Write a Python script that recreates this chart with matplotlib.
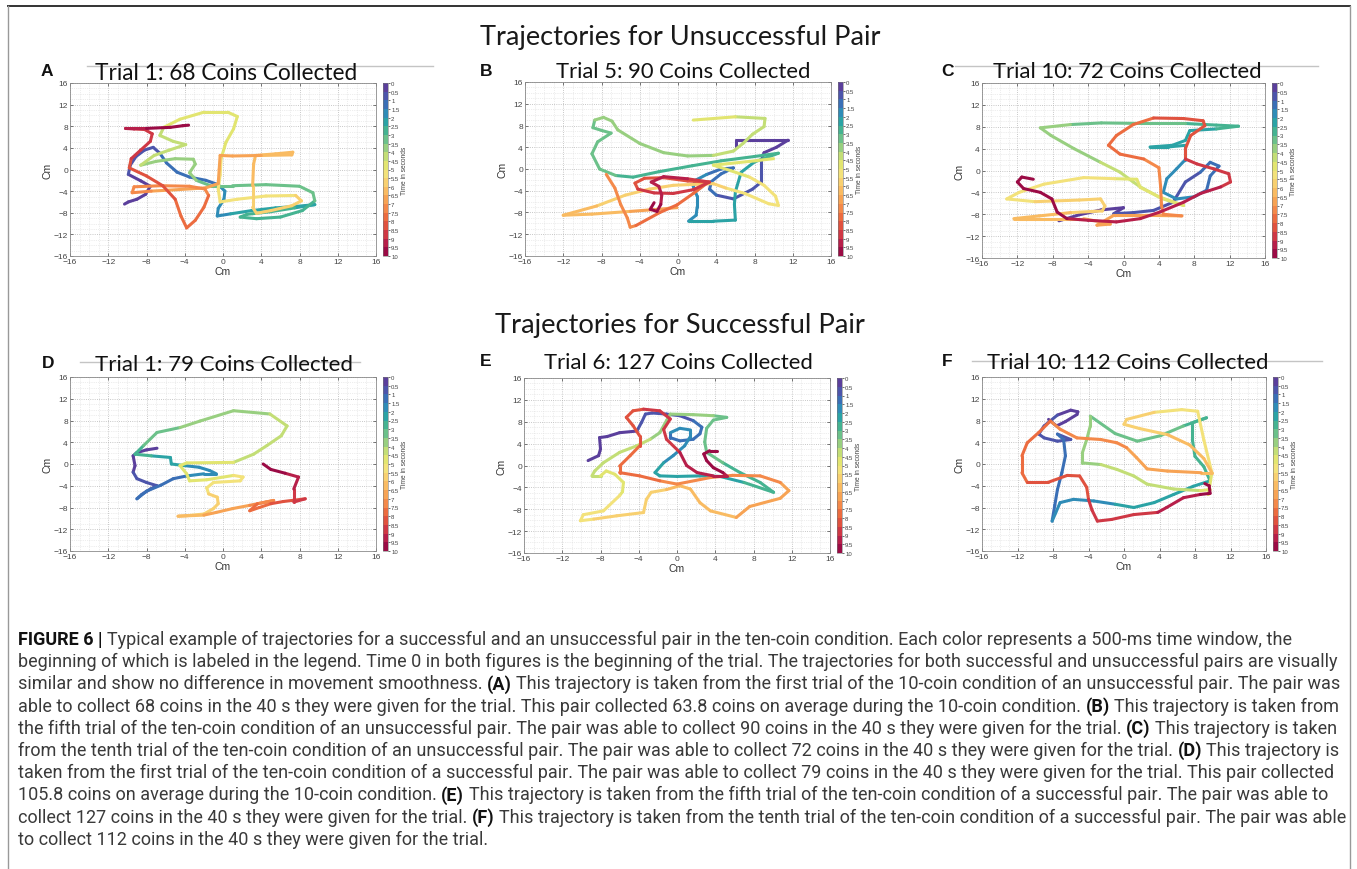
import numpy as np
import matplotlib
matplotlib.use('Agg')
import matplotlib.pyplot as plt
from matplotlib.collections import LineCollection
from matplotlib.colors import BoundaryNorm, ListedColormap
from matplotlib.cm import ScalarMappable
from matplotlib.lines import Line2D

# ---- data -------------------------------------------------------------
row_titles = ['Trajectories for Unsuccessful Pair', 'Trajectories for Successful Pair']
panel_letters = ['A', 'B', 'C', 'D', 'E', 'F']
panel_titles = ['Trial 1: 68 Coins Collected', 'Trial 5: 90 Coins Collected',
                'Trial 10: 72 Coins Collected', 'Trial 1: 79 Coins Collected',
                'Trial 6: 127 Coins Collected', 'Trial 10: 112 Coins Collected']
time_bins = np.arange(0, 10.01, 0.5)
ticks = np.arange(-16, 17, 4)

# (time in s, x cm, y cm); None marks a gap in the trace
traj_a = [(0.00, -10.3, -6.4), (0.05, -9.9, -6.0), (0.12, -9.0, -5.5), (0.20, -8.1, -4.6),
          (0.28, -7.6, -3.1), (0.36, -8.6, -2.1), (0.45, -9.9, -0.9), (0.55, -9.7, 0.8),
          (0.65, -9.1, 2.4), (0.75, -8.2, 3.6), (0.85, -7.3, 4.1), (0.95, -6.6, 3.0),
          (1.05, -5.9, 1.2), (1.15, -4.8, -0.5), (1.25, -3.5, -1.4), (1.35, -1.8, -2.0),
          (1.45, -0.5, -2.8), (1.55, 0.2, -4.0), (1.65, 0.1, -5.5), (1.75, -0.5, -7.2),
          (1.85, -0.6, -8.6), (1.95, 0.8, -8.2), (2.05, 3.0, -7.6), (2.15, 5.5, -7.1),
          (2.25, 7.8, -6.8), (2.35, 9.6, -6.5), (2.45, 7.5, -7.1), (2.55, 5.0, -7.8),
          (2.62, 2.5, -8.3), (2.70, 1.8, -8.8), (2.78, 3.5, -9.1), (2.86, 6.0, -8.8),
          (2.94, 8.3, -7.6), (3.02, 9.6, -5.8), (3.10, 9.4, -4.3), (3.18, 8.0, -3.1),
          (3.26, 4.5, -2.8), (3.34, 1.0, -3.0), (3.42, -1.3, -3.0), (3.50, -2.8, -2.0),
          (3.58, -3.5, -0.6), (3.66, -2.9, 1.0), (3.74, -3.1, 1.9), (3.82, -5.0, 2.0),
          (3.90, -7.0, 1.5), (3.98, -8.6, 0.8), (4.06, -7.2, 2.6), (4.14, -5.6, 3.6),
          (4.22, -3.9, 4.6), (4.30, -5.2, 5.2), (4.38, -6.6, 6.3), (4.46, -6.2, 7.8),
          (4.54, -4.5, 9.3), (4.62, -2.0, 10.6), (4.70, 0.5, 10.6), (4.78, 1.5, 9.8),
          (4.86, 1.1, 7.5), (4.94, 0.3, 5.0), (5.02, -0.2, 2.0), (5.10, -0.3, -1.0),
          (5.18, -0.5, -3.6), (5.26, -0.3, -6.0), (5.34, 1.5, -5.5), (5.42, 4.5, -4.9),
          (5.50, 7.6, -4.8), (5.58, 8.2, -5.8), (5.66, 7.2, -6.7), (5.74, 5.0, -7.6),
          (5.82, 3.5, -8.1), (5.90, 3.1, -7.0), (5.98, 3.1, -3.0), (6.06, 3.2, 1.0),
          (6.14, 3.4, 2.6), (6.22, 5.5, 2.9), (6.30, 7.3, 3.2), (6.38, 7.2, 2.7),
          (6.46, 4.0, 2.6), (6.54, 1.0, 2.5), (6.62, -0.3, 2.6), (6.70, -0.4, 0.0),
          (6.78, -0.5, -2.6), (6.86, -1.8, -3.4), (6.94, -4.5, -3.7), (7.02, -7.5, -4.0),
          (7.10, -9.5, -4.3), (7.18, -9.3, -3.2), (7.26, -6.5, -3.0), (7.34, -3.5, -3.1),
          (7.42, -1.9, -3.6), (7.52, -1.5, -4.8), (7.62, -2.0, -7.0), (7.72, -2.9, -9.4),
          (7.82, -3.8, -10.8), (7.92, -4.4, -8.6), (8.02, -5.0, -5.5), (8.12, -6.3, -3.0),
          (8.22, -8.0, -1.2), (8.32, -9.8, 0.3), (8.44, -9.6, 2.0), (8.56, -8.6, 3.6),
          (8.68, -7.6, 5.2), (8.80, -7.4, 6.6), (8.92, -8.2, 7.4), (9.04, -9.3, 7.5),
          (9.16, -10.2, 7.6), (9.40, -8.0, 7.6), (9.64, -5.5, 7.8), (9.85, -4.2, 8.1),
          (10.0, -3.6, 8.2)]

traj_b = [(0.00, 6.1, 4.0), (0.08, 6.1, 5.3), (0.18, 8.6, 5.3), (0.28, 11.5, 5.3),
          (0.36, 10.3, 4.0), (0.44, 9.0, 3.0), (0.52, 8.7, 1.5), (0.62, 8.7, -0.5),
          (0.72, 8.7, -2.4), (0.82, 7.8, -3.7), (0.92, 5.8, -5.5), (1.02, 4.0, -4.8),
          (1.10, 3.3, -3.7), (1.18, 3.5, -2.3), (1.26, 4.5, -0.9), (1.34, 5.8, 0.2),
          (1.42, 4.5, 0.0), (1.50, 3.0, -1.0), (1.58, 1.8, -2.1), (1.66, 1.6, -3.2),
          (1.74, 2.0, -5.0), (1.82, 2.0, -7.0), (1.90, 1.9, -8.5), (1.98, 1.1, -9.6),
          (2.06, 3.7, -9.6), (2.14, 6.0, -9.4), (2.22, 5.9, -6.5), (2.30, 6.0, -4.2),
          (2.38, 6.6, -0.6), (2.46, 8.0, 1.3), (2.54, 10.5, 2.9), (2.62, 8.0, 2.3),
          (2.70, 4.5, 1.5), (2.78, 1.5, 0.6), (2.86, -2.0, -0.5), (2.94, -4.7, -1.5),
          (3.02, -6.5, -1.2), (3.10, -8.2, 0.0), (3.18, -9.0, 2.8), (3.26, -8.4, 5.0),
          (3.34, -7.0, 6.6), (3.40, -8.0, 7.1), (3.46, -8.9, 7.6), (3.52, -8.7, 9.0),
          (3.58, -7.8, 9.5), (3.64, -6.9, 8.8), (3.70, -6.3, 7.2), (3.78, -4.0, 4.7),
          (3.86, -1.5, 3.0), (3.94, 1.0, 2.4), (4.02, 3.7, 2.5), (4.10, 5.8, 3.3),
          (4.18, 6.8, 4.7), (4.26, 7.8, 6.4), (4.34, 9.0, 7.8), (4.42, 9.1, 9.3),
          (4.50, 6.0, 9.6), (4.58, 1.6, 9.0), None,
          (4.70, 10.0, 1.9), (4.78, 7.5, 1.4), (4.86, 3.7, 0.7), (4.94, 5.5, -0.3),
          (5.02, 7.5, -1.5), (5.10, 9.0, -3.0), (5.18, 10.2, -5.0), (5.26, 10.5, -6.7),
          (5.34, 9.5, -6.4), (5.42, 7.0, -4.5), (5.50, 5.0, -3.5), (5.58, 3.7, -2.7),
          (5.66, 2.0, -2.8), (5.74, -0.5, -3.0), (5.82, -3.0, -3.7), (5.92, -5.5, -4.8),
          (6.02, -8.5, -6.8), (6.12, -12.0, -8.5), (6.30, -9.0, -8.3), (6.50, -5.0, -7.8),
          (6.70, -2.0, -7.4), (6.85, -0.1, -7.1), None,
          (7.00, -7.5, -1.0), (7.10, -6.6, -3.5), (7.20, -6.0, -6.5), (7.30, -5.3, -9.0),
          (7.40, -5.0, -10.7), (7.50, -4.4, -10.4), (7.62, -1.9, -8.0), (7.74, -0.1, -6.6),
          (7.86, 1.6, -4.5), (7.98, 3.2, -2.4), (8.10, 1.0, -2.2), (8.20, -1.5, -1.6),
          (8.30, -3.5, -1.7), (8.40, -4.5, -2.6), (8.50, -4.2, -3.7), (8.60, -2.5, -4.4),
          (8.70, -0.5, -4.5), (8.80, 1.6, -3.8), (8.90, 3.3, -2.4), (9.00, 1.0, -1.8),
          (9.10, -1.5, -1.4), (9.20, -2.8, -2.4), (9.30, -2.0, -3.2), (9.40, -1.7, -4.8),
          (9.55, -1.8, -6.5), (9.70, -2.2, -7.8), (9.85, -2.9, -7.4), (10.0, -2.5, -6.2)]

traj_c = [(0.00, -7.3, -9.2), (0.12, -5.0, -8.1), (0.25, -2.5, -7.2), (0.38, 0.0, -6.8),
          (0.50, -1.1, -7.9), (0.60, 1.1, -7.7), (0.70, 3.4, -7.3), (0.80, 5.6, -5.8),
          (0.90, 7.0, -2.1), (1.00, 8.7, -0.3), (1.10, 9.8, 1.5), (1.20, 10.8, 0.8),
          (1.30, 9.8, -1.0), (1.40, 9.4, -3.6), (1.50, 8.0, -4.8), (1.60, 6.0, -5.2),
          (1.68, 4.5, -4.0), (1.76, 4.9, -1.5), (1.84, 6.0, 0.3), (1.92, 7.0, 2.0),
          (2.00, 7.0, 4.6), (2.08, 5.0, 4.3), (2.16, 3.0, 4.3), (2.24, 5.5, 4.6),
          (2.32, 7.0, 5.5), (2.40, 7.5, 7.3), (2.50, 10.5, 7.6), (2.60, 13.0, 8.1),
          (2.80, 10.5, 8.3), (3.00, 7.0, 8.6), (3.20, 2.0, 8.6), (3.40, -2.5, 8.7),
          (3.55, -6.0, 8.4), (3.70, -9.4, 7.8), (3.80, -8.2, 6.4), (3.90, -5.6, 4.0),
          (4.00, -2.6, 1.5), (4.10, -0.4, -0.3), (4.20, 1.1, -2.1), (4.30, 1.9, -3.0),
          (4.42, 4.3, -5.1), (4.55, 6.8, -6.4), (4.65, 4.0, -4.8), (4.75, 1.9, -3.1),
          (4.85, 1.5, -1.6), (4.95, -1.0, -1.5), (5.05, -4.5, -1.3), (5.15, -9.0, -2.5),
          (5.25, -11.8, -4.0), (5.35, -13.2, -5.2), (5.45, -10.0, -5.7), (5.55, -5.0, -5.4),
          (5.65, -2.6, -5.2), (5.75, -2.1, -6.5), (5.85, -2.4, -7.4), (5.95, -6.0, -7.7),
          (6.05, -9.5, -8.3), (6.15, -12.4, -8.8), (6.25, -8.0, -8.8), (6.35, -4.5, -8.8),
          (6.45, -2.6, -9.4), (6.55, -1.5, -9.8), (6.62, -3.0, -10.0), (6.70, -1.1, -8.2),
          (6.85, 2.5, -8.2), (7.00, 6.6, -8.3), (7.10, 4.5, -8.0), (7.20, 4.3, -6.4),
          (7.30, 4.2, -3.0), (7.40, 4.0, 0.5), (7.50, 2.3, 2.1), (7.60, -0.4, 3.0),
          (7.70, -1.7, 4.6), (7.80, -0.8, 6.4), (7.90, 1.1, 8.4), (8.00, 3.4, 9.6),
          (8.10, 6.8, 9.5), (8.15, 9.0, 9.1), (8.25, 9.2, 8.2), (8.35, 7.6, 6.4),
          (8.45, 7.0, 4.0), (8.52, 7.0, 2.1), (8.60, 8.3, 1.2), (8.70, 10.2, 0.3),
          (8.80, 11.9, -0.6), (8.88, 12.1, -2.1), (8.96, 11.0, -3.0), (9.04, 8.7, -4.2),
          (9.12, 6.8, -5.8), (9.20, 4.1, -7.6), (9.28, 1.9, -8.8), (9.36, -0.8, -9.4),
          (9.44, -4.0, -9.1), (9.52, -6.4, -8.8), (9.60, -7.5, -7.6), (9.68, -8.1, -5.2),
          (9.76, -9.4, -4.0), (9.84, -11.3, -3.3), (9.90, -12.0, -2.1), (9.95, -11.5, -1.2),
          (10.0, -10.2, -1.6)]

traj_d = [(0.00, -6.9, 2.9), (0.10, -8.0, 2.6), (0.20, -9.0, 2.1), (0.28, -9.4, 1.5),
          (0.36, -9.2, -0.3), (0.46, -9.4, -1.5), (0.56, -9.0, -2.7), (0.66, -8.0, -3.4),
          (0.76, -6.9, -4.0), (0.86, -7.6, -4.6), (0.96, -8.5, -5.6), (1.06, -9.0, -6.4),
          (1.16, -8.0, -5.0), (1.26, -6.5, -3.9), (1.36, -5.2, -2.7), (1.46, -3.8, -2.2),
          (1.56, -2.0, -1.8), (1.66, -0.7, -1.8), (1.76, -1.4, -1.2), (1.86, -2.5, -0.6),
          (1.96, -4.0, -0.3), (2.06, -5.4, 0.0), (2.30, -5.5, 1.2), (2.55, -7.5, 1.5),
          (2.80, -9.2, 1.8), (3.00, -8.3, 3.4), (3.30, -6.9, 5.8), (3.50, -4.5, 6.7),
          (3.65, -2.4, 7.9), (3.80, 1.1, 9.8), (3.95, 4.9, 9.2), (4.05, 6.7, 7.0),
          (4.15, 6.1, 5.2), (4.25, 4.6, 3.4), (4.35, 3.2, 1.8), (4.45, 1.1, 0.3),
          (4.55, -3.8, 0.2), (4.62, -4.5, -0.3), (4.70, -3.8, -1.8), (4.78, -3.5, -3.1),
          (4.86, -1.7, -2.9), (4.95, 1.1, -2.1), (5.05, 2.1, -2.4), (5.15, 1.8, -3.1),
          (5.25, -1.0, -3.4), (5.35, -1.7, -4.4), (5.45, -1.5, -5.5), (5.55, -0.6, -6.1),
          (5.65, -0.5, -7.3), (5.75, -1.0, -8.2), (5.90, -2.0, -9.2), (6.05, -3.8, -9.5),
          (6.20, -4.7, -9.6), (6.40, -2.0, -9.4), (6.60, -0.7, -8.9), (6.80, 1.0, -8.2),
          (7.00, 2.8, -7.6), (7.20, 4.5, -7.0), (7.35, 5.3, -6.7), (7.50, 3.6, -7.3),
          (7.65, 2.8, -8.6), (7.80, 3.8, -8.0), (8.00, 5.0, -7.3), (8.30, 6.3, -6.9),
          (8.60, 8.6, -6.4), (8.80, 7.4, -7.0), (9.00, 7.4, -4.6), (9.20, 7.9, -2.4),
          (9.40, 6.5, -1.7), (9.60, 5.0, -1.0), (10.0, 4.2, 0.0)]

traj_e = [(0.00, -9.3, 0.9), (0.10, -8.2, 1.8), (0.18, -8.0, 3.0), (0.26, -8.1, 5.1),
          (0.34, -7.3, 5.3), (0.42, -6.0, 6.0), (0.50, -4.2, 6.3), (0.58, -3.7, 7.9),
          (0.66, -3.3, 9.4), (0.74, -2.6, 9.6), (0.82, -1.1, 9.4), (0.90, 0.3, 9.1),
          (1.00, 1.7, 8.2), (1.08, 2.6, 7.0), (1.16, 2.4, 5.8), (1.24, 1.7, 4.8),
          (1.32, 0.3, 4.5), (1.40, -0.7, 5.1), (1.48, -0.7, 6.0), (1.56, 0.3, 6.8),
          (1.64, 1.4, 6.5), (1.72, 1.4, 5.3), (1.80, 0.8, 3.6), (1.88, -0.4, 1.8),
          (1.96, -1.4, 0.5), (2.04, -2.3, -1.3), (2.12, -1.8, -1.9), (2.20, 0.0, -2.0),
          (2.30, 2.4, -1.9), (2.40, 4.5, -2.0), (2.50, 7.0, -3.1), (2.60, 10.1, -4.9),
          (2.72, 8.7, -3.1), (2.84, 6.6, -1.3), (2.96, 4.8, 0.5), (3.06, 3.1, 2.4),
          (3.14, 2.9, 4.3), (3.22, 3.1, 6.8), (3.30, 3.8, 8.3), (3.38, 5.2, 8.8),
          (3.46, 3.8, 9.1), (3.56, 1.7, 9.3), (3.66, -0.7, 9.4), (3.76, -1.1, 8.2),
          (3.86, -1.8, 6.0), (3.96, -2.8, 4.8), (4.06, -4.2, 3.6), (4.16, -6.0, 2.4),
          (4.26, -7.7, 0.5), (4.36, -8.6, -1.0), (4.44, -8.9, -1.9), (4.52, -8.0, -1.9),
          (4.60, -7.4, -1.0), (4.70, -6.5, -1.6), (4.80, -5.6, -3.1), (4.90, -5.7, -4.8),
          (5.00, -6.0, -5.5), (5.12, -7.7, -8.3), (5.24, -9.8, -9.0), (5.34, -10.1, -10.1),
          (5.46, -8.7, -9.8), (5.58, -6.3, -9.2), (5.70, -3.5, -8.6), (5.80, -3.2, -6.2),
          (5.90, -2.7, -4.9), (6.00, -1.1, -4.4), (6.10, 0.3, -3.7), (6.20, 1.4, -4.3),
          (6.30, 2.4, -6.8), (6.40, 3.5, -8.3), (6.50, 6.2, -9.5), (6.62, 7.6, -7.5),
          (6.74, 10.8, -6.0), (6.86, 11.7, -4.6), (6.96, 10.8, -3.1), (7.06, 8.7, -1.9),
          (7.16, 5.8, -1.8), (7.26, 3.5, -2.2), (7.36, 0.0, -3.4), (7.46, -1.8, -2.8),
          (7.56, -3.9, -1.9), (7.66, -6.0, -1.3), (7.76, -6.0, -0.1), (7.86, -4.9, 1.8),
          (7.96, -3.9, 3.6), (8.06, -3.9, 5.4), (8.16, -4.6, 7.3), (8.26, -5.3, 8.8),
          (8.36, -4.6, 10.0), (8.46, -3.5, 10.3), (8.56, -1.8, 10.0), (8.66, -0.7, 8.5),
          (8.76, -1.4, 6.6), (8.86, -1.1, 4.8), (8.96, 0.3, 2.4), (9.06, 1.0, 0.0),
          (9.16, 2.1, -1.3), (9.26, 3.8, -1.9), (9.36, 5.2, -1.9), (9.46, 4.8, -1.3),
          (9.56, 3.8, -0.4), (9.70, 3.1, 0.9), (9.80, 2.8, 2.1), (9.90, 3.4, 2.7),
          (10.0, 4.2, 2.7)]

traj_f = [(0.00, -8.5, 8.2), (0.08, -7.6, 7.0), (0.16, -6.6, 7.8), (0.24, -5.3, 9.1),
          (0.32, -5.2, 9.6), (0.40, -6.0, 9.9), (0.48, -7.5, 9.0), (0.56, -9.0, 7.0),
          (0.64, -9.6, 5.5), (0.72, -9.0, 4.8), (0.80, -7.5, 4.2), (0.88, -6.0, 4.5),
          (0.96, -7.5, 5.5), (1.04, -6.8, 4.5), (1.12, -6.6, 1.5), (1.20, -7.0, -1.6),
          (1.30, -7.5, -4.7), (1.40, -7.8, -7.6), (1.50, -8.1, -10.5), (1.58, -7.7, -9.0),
          (1.66, -7.2, -7.1), (1.76, -5.7, -6.5), (1.86, -3.4, -6.8), (1.96, -1.0, -7.4),
          (2.06, 1.1, -8.0), (2.16, 3.4, -7.1), (2.26, 5.6, -5.6), (2.36, 7.8, -4.1),
          (2.46, 9.7, -3.1), (2.56, 9.0, -0.5), (2.66, 8.0, 1.4), (2.76, 7.7, 4.5),
          (2.84, 7.7, 7.6), (2.92, 9.3, 8.5), (3.02, 6.7, 7.0), (3.12, 4.1, 5.2),
          (3.22, 1.5, 4.2), (3.34, -1.0, 5.6), (3.46, -3.8, 8.8), (3.56, -3.8, 7.0),
          (3.66, -4.2, 4.5), (3.76, -4.7, 2.0), (3.86, -4.7, 0.2), (3.96, -2.6, -0.1),
          (4.06, -0.8, -1.0), (4.16, 1.1, -2.2), (4.26, 2.6, -3.7), (4.40, 5.6, -4.6),
          (4.54, 8.6, -4.9), (4.66, 9.7, -4.7), (4.80, 9.5, -5.6), (4.95, 9.9, -1.6),
          (5.10, 9.0, 4.4), (5.25, 8.3, 9.7), (5.40, 6.5, 10.0), (5.55, 3.4, 9.5),
          (5.70, 0.3, 8.2), (5.80, 0.0, 7.3), (5.90, 1.8, 6.5), (6.00, 4.9, 5.4),
          (6.12, 7.4, 3.5), (6.24, 9.0, 1.0), (6.36, 9.9, -1.6), (6.48, 8.7, -1.6),
          (6.60, 4.9, -1.3), (6.72, 2.6, -0.9), (6.84, 1.4, 1.2), (6.96, 0.3, 3.0),
          (7.06, -0.8, 3.9), (7.16, -2.6, 4.5), (7.28, -5.3, 4.8), (7.40, -7.2, 6.4),
          (7.50, -8.3, 7.9), (7.60, -9.6, 5.8), (7.70, -10.9, 3.9), (7.80, -11.5, 1.5),
          (7.90, -11.5, -1.6), (8.00, -10.9, -3.4), (8.10, -8.6, -3.4), (8.20, -6.4, -2.1),
          (8.30, -5.0, -2.2), (8.40, -4.2, -4.3), (8.50, -4.0, -6.5), (8.60, -3.6, -8.5),
          (8.70, -3.0, -10.5), (8.80, -1.4, -10.2), (8.90, 1.1, -9.3), (9.00, 3.8, -8.9),
          (9.10, 4.8, -8.0), (9.25, 6.7, -6.2), (9.45, 8.6, -5.6), (9.65, 9.7, -5.4),
          (9.80, 9.6, -4.0), (10.0, 9.1, -3.6)]

trajectories = [traj_a, traj_b, traj_c, traj_d, traj_e, traj_f]

caption_lines = [
    "**FIGURE 6 |** Typical example of trajectories for a successful and an unsuccessful pair in the ten-coin condition. Each color represents a 500-ms time window, the",
    "beginning of which is labeled in the legend. Time 0 in both figures is the beginning of the trial. The trajectories for both successful and unsuccessful pairs are visually",
    "similar and show no difference in movement smoothness. **(A)** This trajectory is taken from the first trial of the 10-coin condition of an unsuccessful pair. The pair was",
    "able to collect 68 coins in the 40 s they were given for the trial. This pair collected 63.8 coins on average during the 10-coin condition. **(B)** This trajectory is taken from",
    "the fifth trial of the ten-coin condition of an unsuccessful pair. The pair was able to collect 90 coins in the 40 s they were given for the trial. **(C)** This trajectory is taken",
    "from the tenth trial of the ten-coin condition of an unsuccessful pair. The pair was able to collect 72 coins in the 40 s they were given for the trial. **(D)** This trajectory is",
    "taken from the first trial of the ten-coin condition of a successful pair. The pair was able to collect 79 coins in the 40 s they were given for the trial. This pair collected",
    "105.8 coins on average during the 10-coin condition. **(E)** This trajectory is taken from the fifth trial of the ten-coin condition of a successful pair. The pair was able to",
    "collect 127 coins in the 40 s they were given for the trial. **(F)** This trajectory is taken from the tenth trial of the ten-coin condition of a successful pair. The pair was able",
    "to collect 112 coins in the 40 s they were given for the trial.",
]

# ---- layout (pixel boxes: left, top, right, bottom) ---------------------
W, H = 1357, 870
fig = plt.figure(figsize=(W / 100, H / 100), dpi=100)
fig.patch.set_facecolor('white')
renderer = fig.canvas.get_renderer()

def box(l, t, r, b):
    return [l / W, 1 - b / H, (r - l) / W, (b - t) / H]

def fx(x):
    return x / W

def fy(y):
    return 1 - y / H

def fit(txt, width_px):
    w = txt.get_window_extent(renderer).width
    txt.set_fontsize(txt.get_fontsize() * width_px / w)

axes_px = [(70, 84, 376, 257), (525, 83, 831, 257), (982, 84, 1265, 259),
           (70, 378, 376, 552), (524, 379, 830, 554), (982, 378, 1266, 552)]
title_px = [(226, 73, 262), (683, 72, 256), (1127, 72, 270),
            (224, 365, 258), (678, 363, 270), (1128, 363, 283)]
letter_px = [(47, 72), (486, 72), (947, 72), (48, 363), (486, 362), (947, 362)]
rule_px = [(87, 433, 67), None, (955, 1318, 67), (80, 360, 363), None, (972, 1322, 362)]

# 20-step map as in the figure's colour bar (purple -> crimson)
bin_colors = ['#5b3f9c', '#4d55ab', '#3a6fb6', '#2f8cb7', '#2ba3a5', '#45b391',
              '#6cc18a', '#98cf80', '#c3de76', '#e2e570', '#f3e27a', '#f8d070',
              '#f9bb62', '#f7a354', '#f4894a', '#ec6c40', '#e0523f', '#cf3845',
              '#b71f4a', '#9b0b45']
cmap = ListedColormap(bin_colors)
norm = BoundaryNorm(time_bins, cmap.N)
sans = ['Liberation Sans', 'DejaVu Sans']
title_font = ['Lato', 'DejaVu Sans']

# frame around the figure
fig.add_artist(Line2D([fx(8), fx(1350)], [fy(7), fy(7)], color='#333333', lw=1.4))
fig.add_artist(Line2D([fx(8), fx(8)], [fy(7), fy(870)], color='#999999', lw=1.0))
fig.add_artist(Line2D([fx(1350), fx(1350)], [fy(7), fy(870)], color='#999999', lw=1.0))

for txt_s, yc in zip(row_titles, [38, 325]):
    t = fig.text(fx(680), fy(yc), txt_s, ha='center', va='center', fontsize=18,
                 family=title_font, color='#1a1a1a')
    fit(t, 400 if yc < 100 else 370)

for i in range(6):
    l, tp, r, b = axes_px[i]
    ax = fig.add_axes(box(l, tp, r, b))
    p = np.array([q if q is not None else (np.nan,) * 3 for q in trajectories[i]], dtype=float)
    tt, xx, yy = p[:, 0], p[:, 1], p[:, 2]
    segs = np.stack([np.column_stack([xx[:-1], yy[:-1]]),
                     np.column_stack([xx[1:], yy[1:]])], axis=1)
    keep = ~np.isnan(segs).any(axis=(1, 2))
    lc = LineCollection(segs[keep], cmap=cmap, norm=norm, linewidths=2.2,
                        capstyle='round', joinstyle='round')
    lc.set_array(((tt[:-1] + tt[1:]) / 2)[keep])
    ax.add_collection(lc)

    ax.set_xlim(-16, 16)
    ax.set_ylim(-16, 16)
    ax.set_xticks(ticks)
    ax.set_yticks(ticks)
    ax.set_xticks(np.arange(-16, 17, 1), minor=True)
    ax.set_yticks(np.arange(-16, 17, 1), minor=True)
    ax.grid(which='major', ls=':', color='#b5b5b5', lw=0.6)
    ax.grid(which='minor', ls=':', color='#dcdcdc', lw=0.5)
    ax.set_axisbelow(True)
    ax.tick_params(which='major', direction='in', top=True, right=True, length=2.5,
                   width=0.5, labelsize=6, pad=1.5, colors='#444444')
    ax.tick_params(which='minor', length=0)
    for lab in ax.get_xticklabels() + ax.get_yticklabels():
        lab.set_family(sans)
    for s in ax.spines.values():
        s.set_color('#8a8a8a')
        s.set_linewidth(0.6)
    ax.set_xlabel('Cm', fontsize=7.5, labelpad=0.5, family=sans, color='#333333')
    ax.set_ylabel('Cm', fontsize=7.5, labelpad=1, family=sans, color='#333333')

    cax = fig.add_axes(box(r + 7, tp, r + 12, b))
    cb = fig.colorbar(ScalarMappable(norm=norm, cmap=cmap), cax=cax, ticks=time_bins)
    cax.invert_yaxis()
    cax.set_yticklabels(['%g' % v for v in time_bins], fontsize=4.3, family=sans,
                        color='#444444')
    cax.tick_params(length=1.2, width=0.4, pad=1)
    cb.set_label('Time in seconds', fontsize=4.8, labelpad=1, family=sans, color='#444444')
    cb.outline.set_linewidth(0.4)
    cb.outline.set_edgecolor('#777777')

    if rule_px[i] is not None:
        x0, x1, yr = rule_px[i]
        fig.add_artist(Line2D([fx(x0), fx(x1)], [fy(yr), fy(yr)], color='#c4c4c4', lw=1.0))
    cx, cy, tw = title_px[i]
    t = fig.text(fx(cx), fy(cy), panel_titles[i], ha='center', va='center', fontsize=14,
                 family=title_font, color='#111111')
    fit(t, tw)
    lx, ly = letter_px[i]
    fig.text(fx(lx), fy(ly), panel_letters[i], ha='center', va='center', fontsize=12.5,
             family=sans, weight='bold', color='#111111')

# ---- caption ------------------------------------------------------------
cap_font = ['Roboto', 'Liberation Sans', 'DejaVu Sans']
probe = fig.text(0, 0, caption_lines[3].replace('**', ''), fontsize=10, family=cap_font)
cap_size = 10 * 1323 / probe.get_window_extent(renderer).width
probe.remove()
sp1 = fig.text(0, 0, 'x x', fontsize=cap_size, family=cap_font)
sp2 = fig.text(0, 0, 'xx', fontsize=cap_size, family=cap_font)
space_w = sp1.get_window_extent(renderer).width - sp2.get_window_extent(renderer).width
sp1.remove()
sp2.remove()

for k, line in enumerate(caption_lines):
    y = 645 + 22.2 * k
    x = 18.0
    for j, part in enumerate(line.split('**')):
        if not part:
            continue
        if part[0] == ' ':
            x += space_w
        body = part.strip()
        bold = (j % 2 == 1)
        t = fig.text(fx(x), fy(y), body, ha='left', va='baseline', fontsize=cap_size,
                     family=cap_font, weight='bold' if bold else 'normal',
                     color='#111111' if bold else '#3a3a3a')
        x += t.get_window_extent(renderer).width
        if part[-1] == ' ':
            x += space_w

fig.savefig('out.png', dpi=100, facecolor='white')
